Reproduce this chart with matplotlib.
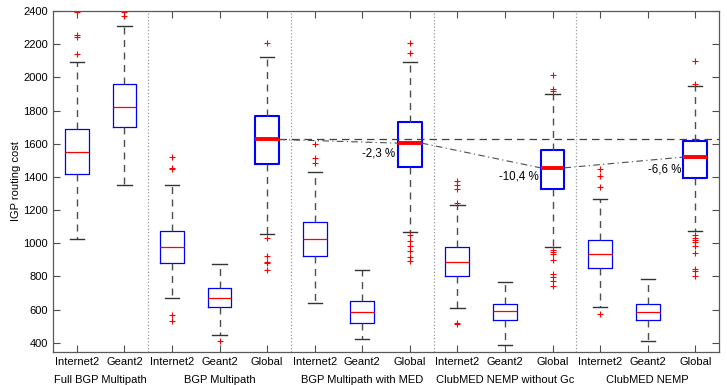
import matplotlib
matplotlib.use("Agg")
import matplotlib.pyplot as plt

plt.rcParams['font.family'] = ['Liberation Sans', 'DejaVu Sans']

tick_labels = ["Internet2", "Geant2",
               "Internet2", "Geant2", "Global",
               "Internet2", "Geant2", "Global",
               "Internet2", "Geant2", "Global",
               "Internet2", "Geant2", "Global"]
group_names = ["Full BGP Multipath", "BGP Multipath", "BGP Multipath with MED",
               "ClubMED NEMP without Gc", "ClubMED NEMP"]
group_centers = [1.5, 4, 7, 10, 13]
separators = [2.5, 5.5, 8.5, 11.5]

medians = [1548, 1825, 975, 673, 1626, 1025, 585, 1604, 886, 589, 1455, 935, 585, 1520]
q1 = [1417, 1702, 882, 613, 1481, 921, 519, 1463, 804, 535, 1328, 852, 535, 1395]
q3 = [1692, 1958, 1073, 728, 1765, 1126, 653, 1729, 975, 635, 1564, 1017, 635, 1616]
whis_lo = [1023, 1351, 671, 448, 1057, 641, 422, 1071, 607, 384, 979, 613, 412, 1075]
whis_hi = [2094, 2310, 1351, 874, 2123, 1431, 838, 2091, 1230, 768, 1898, 1266, 782, 1948]
fliers = [
    [2392, 2255, 2245, 2140],
    [2392, 2370],
    [1518, 1455, 1450, 565, 529],
    [410],
    [2211, 1029, 921, 885, 880, 836],
    [1596, 1512, 1483],
    [],
    [2211, 2145, 1051, 1011, 983, 951, 918, 891],
    [1375, 1351, 1325, 1246, 520, 515],
    [],
    [2016, 1931, 1919, 959, 947, 933, 900, 814, 794, 774, 744],
    [1451, 1405, 1337, 571],
    [],
    [2099, 1958, 1053, 1029, 1019, 1009, 983, 943, 846, 834, 802],
]
global_idx = [4, 7, 10, 13]
gains = ["-2,3 %", "-10,4 %", "-6,6 %"]
gain_text_y = [1544, 1400, 1447]

fig = plt.figure(figsize=(7.27, 3.85), dpi=100)
ax = fig.add_axes([0.073, 0.086, 0.916, 0.885])

positions = list(range(1, len(medians) + 1))
stats = []
for i in range(len(medians)):
    stats.append(dict(med=medians[i], q1=q1[i], q3=q3[i],
                      whislo=whis_lo[i], whishi=whis_hi[i], fliers=fliers[i]))

for i, st in enumerate(stats):
    is_global = i in global_idx
    ax.bxp([st], positions=[positions[i]], widths=0.5, showfliers=True,
           patch_artist=False, capwidths=0.3,
           boxprops=dict(color='#0000ff', linewidth=1.5 if is_global else 0.9),
           medianprops=dict(color='#ff0000', linewidth=2.8 if is_global else 0.9),
           whiskerprops=dict(color='0.3', linestyle=(0, (5, 4)), linewidth=1.0),
           capprops=dict(color='0.2', linewidth=1.0),
           flierprops=dict(marker='+', markeredgecolor='#ff0000', markersize=5,
                           markeredgewidth=0.8, linestyle='none'))

for s in separators:
    ax.axvline(s, color='0.6', linestyle=':', linewidth=0.9)

# reference line at BGP Multipath global median
ref = medians[global_idx[0]]
ax.plot([positions[global_idx[0]] + 0.25, 14.5], [ref, ref], color='0.25',
        linestyle=(0, (6, 4)), linewidth=0.9)
# dash-dot links between global medians
for k in range(len(global_idx) - 1):
    a, b = global_idx[k], global_idx[k + 1]
    ax.plot([positions[a] + 0.25, positions[b] - 0.25], [medians[a], medians[b]],
            color='0.3', linestyle=(0, (6, 3, 1, 3)), linewidth=0.8)
    ax.text(positions[b] - 0.3, gain_text_y[k], gains[k], ha='right', va='center',
            fontsize=8.3, color='black')

ax.set_xlim(0.5, 14.5)
ax.set_ylim(345, 2400)
ax.set_yticks(range(400, 2401, 200))
ax.set_xticks(positions)
ax.set_xticklabels(tick_labels, fontsize=8)
ax.tick_params(axis='y', labelsize=8)
ax.tick_params(direction='in', top=True, right=True, length=5, width=0.8, color='0.3')
for sp in ax.spines.values():
    sp.set_color('0.35')
    sp.set_linewidth(0.9)
ax.set_ylabel("IGP routing cost", fontsize=8, labelpad=2)

for c, name in zip(group_centers, group_names):
    ax.text(c, -0.082, name, transform=ax.get_xaxis_transform(), ha='center',
            va='center', fontsize=8)

fig.savefig("out.png", dpi=100)
